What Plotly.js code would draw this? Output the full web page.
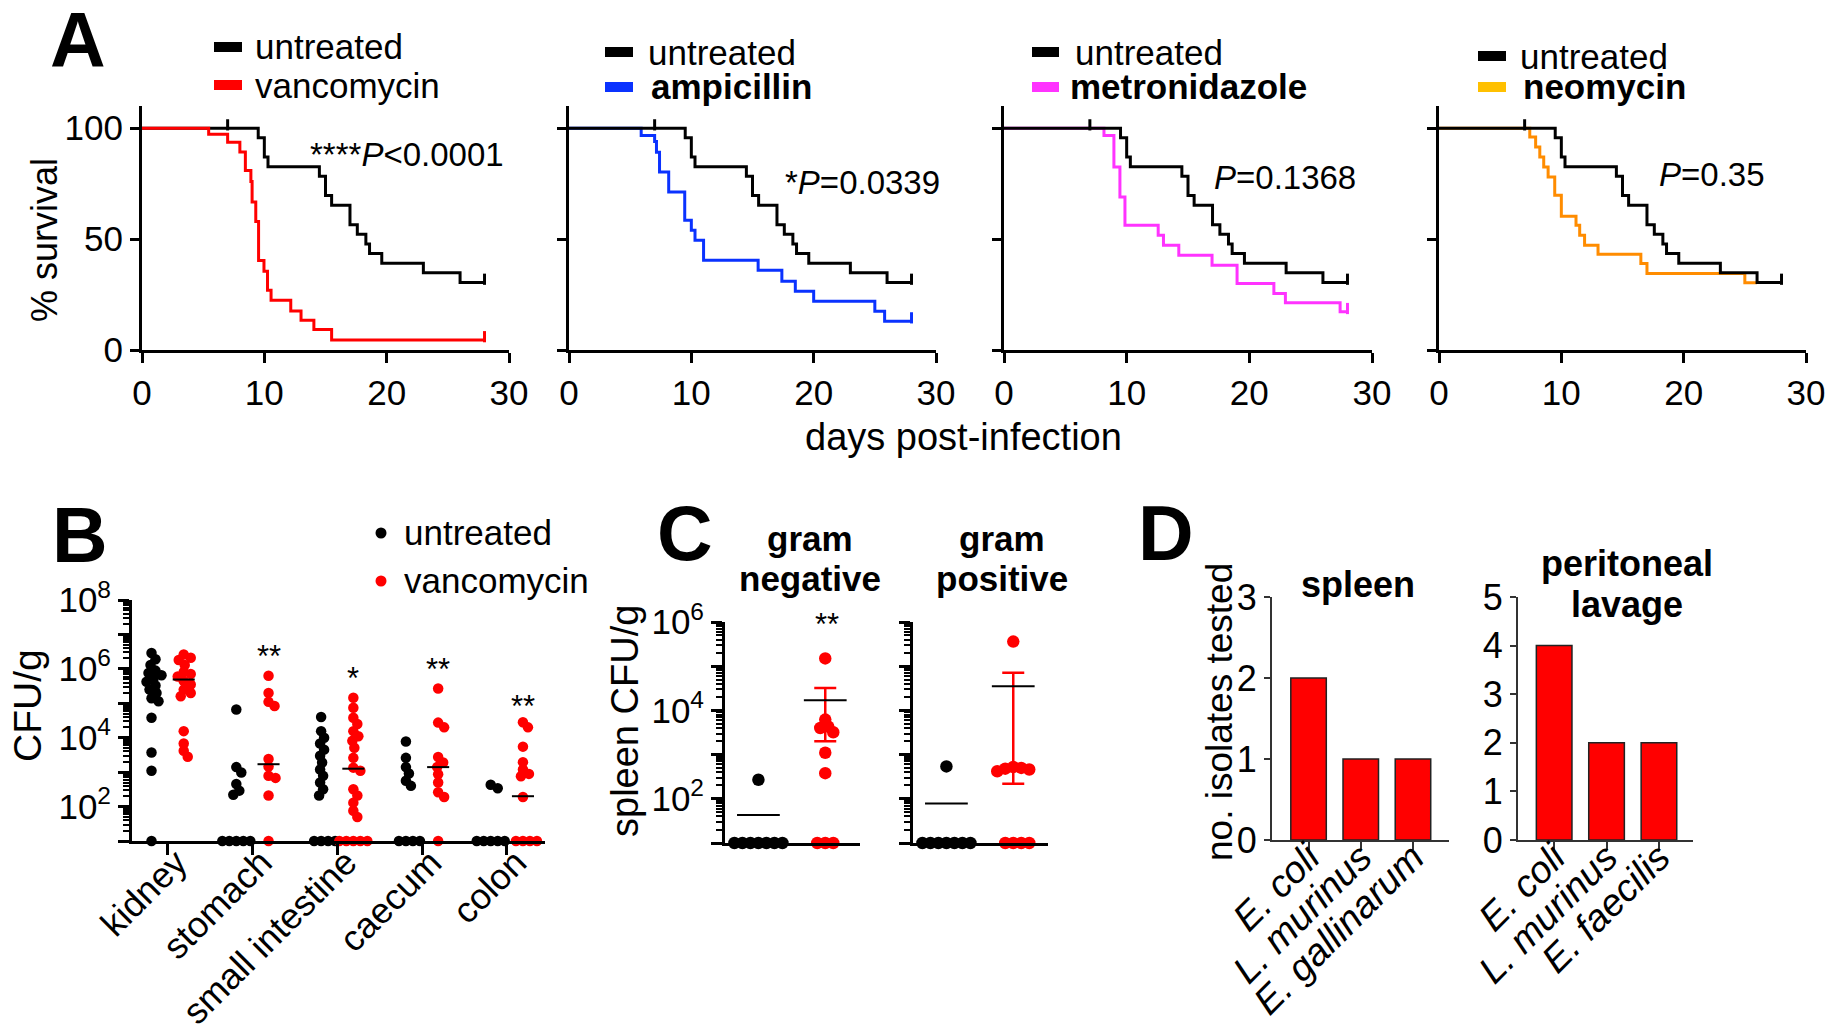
<!DOCTYPE html>
<html>
<head>
<meta charset="utf-8">
<script src="https://cdn.plot.ly/plotly-3.0.1.min.js"></script>
<style>
  html, body { margin: 0; padding: 0; background: #ffffff; }
  #chart { width: 1831px; height: 1026px; }
</style>
</head>
<body>
<div id="chart"></div>
<script>
// ================= DATA =================
// Panel A: Kaplan-Meier survival (day, % survival) step points
const daysTicks = [0, 10, 20, 30];
const survivalTicks = [0, 50, 100];

const untreatedT = [0, 9.5, 10.0, 10.3, 14.5, 15.0, 15.5, 17.0, 17.6, 18.3, 18.6, 19.6, 23.0, 26.0, 28];
const untreatedS = [100, 95.7, 87.0, 82.6, 78.3, 69.6, 65.2, 56.5, 52.2, 47.8, 43.5, 39.1, 34.8, 30.4, 30.4];
const untreatedCensorT = [7, 28];

const vancoT = [0, 5.45, 7.0, 8.0, 8.45, 8.9, 9.0, 9.3, 9.53, 9.97, 10.26, 10.55, 12.16, 13.0, 14.05, 15.5, 28];
const vancoS = [100, 97.3, 93.7, 89.3, 80.9, 76.0, 66.7, 57.9, 40.3, 35.5, 26.9, 22.4, 17.6, 13.4, 9.25, 4.5, 4.5];
const vancoCensorT = [28];

const ampT = [0, 5.9, 7.0, 7.15, 7.4, 8.15, 9.46, 10.0, 10.3, 11.0, 15.46, 17.4, 18.5, 20.0, 25.0, 25.8, 28];
const ampS = [100, 96.7, 94.0, 89.2, 80.2, 71.2, 58.5, 54.0, 49.5, 40.5, 36.0, 31.0, 26.5, 22.0, 17.5, 13.0, 13.0];
const ampCensorT = [28];

const metroT = [0, 8.15, 8.96, 9.45, 9.86, 12.57, 13.0, 14.25, 16.96, 19.0, 22.0, 22.94, 27.4, 28];
const metroS = [100, 96.7, 82.5, 69.0, 56.2, 51.7, 47.2, 42.7, 38.2, 30.0, 25.5, 21.3, 17.2, 17.2];
const metroCensorT = [28];

const neoT = [0, 7.42, 7.9, 8.24, 8.56, 8.92, 9.46, 10.0, 11.2, 11.5, 11.9, 13.0, 16.5, 17.0, 25.0, 26.0];
const neoS = [100, 96.0, 91.5, 87.0, 82.5, 78.0, 69.8, 60.3, 56.2, 51.7, 47.2, 43.2, 39.0, 34.5, 30.3, 30.3];
const neoCensorT = [];

const treatmentNames = ['vancomycin', 'ampicillin', 'metronidazole', 'neomycin'];
const pValueTexts = ['****<i>P</i>&lt;0.0001', '*<i>P</i>=0.0339', '<i>P</i>=0.1368', '<i>P</i>=0.35'];

// Panel B: CFU/g per organ (0 = below detection, drawn on the axis)
const organs = ['kidney', 'stomach', 'small intestine', 'caecum', 'colon'];
const organStars = ['', '**', '*', '**', '**'];
const cfuUntreated = [
  [2.9e6, 1.9e6, 1.3e6, 8.9e5, 7.6e5, 6.5e5, 5.2e5, 4.2e5, 3.3e5, 2.5e5, 2.0e5, 1.4e5, 1.15e5, 3.8e4, 3.7e3, 1.1e3, 0],
  [6.6e4, 1.4e3, 9.8e2, 4.5e2, 2.9e2, 2.2e2, 0, 0, 0, 0, 0],
  [4.0e4, 1.55e4, 1.0e4, 6.8e3, 4.5e3, 3.0e3, 1.9e3, 1.2e3, 7.8e2, 5.0e2, 3.2e2, 2.1e2, 0, 0, 0, 0],
  [7.8e3, 2.6e3, 1.4e3, 9.1e2, 5.6e2, 4.0e2, 0, 0, 0, 0],
  [4.3e2, 3.4e2, 0, 0, 0, 0, 0]
];
const cfuVanco = [
  [2.6e6, 2.1e6, 1.8e6, 1.3e6, 8.1e5, 7.1e5, 6.0e5, 4.4e5, 3.5e5, 2.5e5, 2.0e5, 1.6e5, 1.55e4, 6.8e3, 4.2e3, 2.8e3],
  [6.3e5, 2.0e5, 1.1e5, 8.3e4, 2.4e3, 1.45e3, 7.9e2, 6.8e2, 2.1e2, 0],
  [1.45e5, 7.4e4, 3.8e4, 2.5e4, 1.55e4, 1.1e4, 8.1e3, 5.1e3, 2.6e3, 1.35e3, 1.1e3, 3.2e2, 2.1e2, 1.3e2, 76, 50, 0, 0, 0, 0, 0],
  [2.7e5, 2.75e4, 2.0e4, 2.75e3, 1.9e3, 1.4e3, 8.7e2, 5.0e2, 2.6e2, 1.9e2, 0],
  [2.8e4, 2.0e4, 5.5e3, 1.95e3, 1.2e3, 8.9e2, 7.6e2, 1.9e2, 0, 0, 0, 0]
];
const vancoMedian = [4.9e5, 1.7e3, 1.26e3, 1.4e3, 2.0e2];
const cfuTickVals = [1e1, 1e2, 1e3, 1e4, 1e5, 1e6, 1e7, 1e8];
const cfuTickText = [' ', '10<sup>2</sup>', ' ', '10<sup>4</sup>', ' ', '10<sup>6</sup>', ' ', '10<sup>8</sup>'];

// Panel C: spleen CFU/g
const gramGroups = [['gram', 'negative'], ['gram', 'positive']];
const gramStars = ['**', ''];
const spleenUntreated = [
  [270, 0, 0, 0, 0, 0, 0, 0],
  [540, 0, 0, 0, 0, 0, 0, 0]
];
const spleenVanco = [
  [1.5e5, 6.2e3, 4.0e3, 4.3e3, 3.2e3, 1.1e3, 380, 0, 0, 0],
  [3.6e5, 525, 480, 420, 460, 500, 0, 0, 0, 0]
];
const spleenMeanUntreated = [43, 78];
const spleenMeanVanco = [1.7e4, 3.5e4];
const spleenErrHiVanco = [3.2e4, 7.1e4];
const spleenErrLoVanco = [2.0e3, 2.2e2];
const spleenTickVals = [1e1, 1e2, 1e3, 1e4, 1e5, 1e6];
const spleenTickText = [' ', '10<sup>2</sup>', ' ', '10<sup>4</sup>', ' ', '10<sup>6</sup>'];

// Panel D: isolates tested
const isolatesSpleen = ['E. coli', 'L. murinus', 'E. gallinarum'];
const countsSpleen = [2, 1, 1];
const isolatesLavage = ['E. coli', 'L. murinus', 'E. faecilis'];
const countsLavage = [4, 2, 2];

// ================= LAYOUT HELPERS =================
const W = 1831, H = 1026;
const FONT = 'Liberation Sans, Arial, Helvetica, sans-serif';
const X = p => p / W;
const Y = p => 1 - p / H;
const xd = (a, b) => [X(a), X(b)];
const yd = (top, bottom) => [Y(bottom), Y(top)];

const RED = '#ff0000';
const colorsA = ['#ff0000', '#0a32ff', '#ff33ff', '#ff8c00'];
const swatchA = ['#ff0000', '#0a32ff', '#ff33ff', '#ffc000'];

const axBase = {
  showline: true, linecolor: 'black', linewidth: 3, mirror: false,
  ticks: 'outside', tickcolor: 'black', tickwidth: 3, ticklen: 10,
  showgrid: false, zeroline: false, fixedrange: true,
  tickfont: { family: FONT, size: 35, color: 'black' }
};

function stepValue(t, s, at) {
  let v = s[0];
  for (let i = 0; i < t.length; i++) { if (t[i] <= at) v = s[i]; }
  return v;
}

// beeswarm offsets (in axis units) so dots do not pile exactly on top of each other
function swarm(vals, floor, pxPerX, pxPerDecade, minDist) {
  const pts = vals.map((v, i) => ({ i, y: Math.log10(Math.max(v, floor)) * pxPerDecade }));
  const order = pts.slice().sort((a, b) => b.y - a.y);
  const placed = [];
  const off = new Array(vals.length).fill(0);
  for (const p of order) {
    let k = 0, dx = 0;
    while (k < 400) {
      const c = k === 0 ? 0 : (k % 2 === 1 ? Math.ceil(k / 2) : -Math.ceil(k / 2));
      if (placed.every(q => Math.hypot(q.x - c, q.y - p.y) >= minDist)) { dx = c; break; }
      k++;
    }
    placed.push({ x: dx, y: p.y });
    off[p.i] = dx / pxPerX;
  }
  return off;
}

const layout = {
  width: W, height: H,
  margin: { l: 0, r: 0, t: 0, b: 0, pad: 0 },
  paper_bgcolor: 'white', plot_bgcolor: 'rgba(0,0,0,0)',
  showlegend: false,
  font: { family: FONT, size: 33, color: 'black' },
  annotations: [], shapes: []
};
const traces = [];

function ann(text, x, y, o) {
  o = o || {};
  layout.annotations.push(Object.assign({
    text: text, x: X(x), y: Y(y), xref: 'paper', yref: 'paper',
    showarrow: false, xanchor: 'left', yanchor: 'middle',
    font: { family: FONT, size: o.size || 33, color: 'black' }
  }, o.extra || {}));
}

// ================= PANEL A =================
const A_x0 = [142, 569, 1004, 1439];
const A_x1 = [509, 936, 1372, 1806];
const A_series = [[vancoT, vancoS, vancoCensorT], [ampT, ampS, ampCensorT], [metroT, metroS, metroCensorT], [neoT, neoS, neoCensorT]];
const A_legendSwatch = [[214, 242], [605, 633], [1032, 1059], [1478, 1506]];
const A_legendText = [[253, 253], [646, 649], [1073, 1068], [1518, 1521]];
const A_legendY = [[47, 85], [52, 87], [52, 87], [56, 87]];
const A_pPos = [[308, 155], [783, 183], [1212, 177], [1657, 175]];

for (let k = 0; k < 4; k++) {
  const n = k + 1;
  const xa = 'x' + (n === 1 ? '' : n), ya = 'y' + (n === 1 ? '' : n);
  layout['xaxis' + (n === 1 ? '' : n)] = Object.assign({}, axBase, {
    domain: xd(A_x0[k], A_x1[k]), range: [0, 30], tickmode: 'array', tickvals: daysTicks,
    anchor: ya
  });
  layout['yaxis' + (n === 1 ? '' : n)] = Object.assign({}, axBase, {
    domain: yd(106, 350), range: [0, 110], tickmode: 'array', tickvals: survivalTicks,
    showticklabels: k === 0, ticklen: 9, anchor: xa
  });
  const [tt, ss, cc] = A_series[k];
  const treated = { x: tt, y: ss, type: 'scatter', mode: 'lines', line: { shape: 'hv', color: colorsA[k], width: 3 }, xaxis: xa, yaxis: ya, cliponaxis: false, hoverinfo: 'skip' };
  const untreated = { x: untreatedT, y: untreatedS, type: 'scatter', mode: 'lines', line: { shape: 'hv', color: 'black', width: 3 }, xaxis: xa, yaxis: ya, cliponaxis: false, hoverinfo: 'skip' };
  const cens = { x: cc, y: cc.map(c => stepValue(tt, ss, c) + 1.5), type: 'scatter', mode: 'markers', marker: { symbol: 'line-ns-open', size: 8, color: colorsA[k], line: { color: colorsA[k], width: 3 } }, xaxis: xa, yaxis: ya, cliponaxis: false, hoverinfo: 'skip' };
  const censU = { x: untreatedCensorT, y: untreatedCensorT.map(c => stepValue(untreatedT, untreatedS, c) + 1.5), type: 'scatter', mode: 'markers', marker: { symbol: 'line-ns-open', size: 8, color: 'black', line: { color: 'black', width: 3 } }, xaxis: xa, yaxis: ya, cliponaxis: false, hoverinfo: 'skip' };
  if (k === 0) { traces.push(untreated, censU, treated, cens); }
  else { traces.push(treated, cens, untreated, censU); }

  // legend
  const [s0, s1] = A_legendSwatch[k];
  const [ly0, ly1] = A_legendY[k];
  layout.shapes.push({ type: 'rect', xref: 'paper', yref: 'paper', x0: X(s0), x1: X(s1), y0: Y(ly0 + 5), y1: Y(ly0 - 5), fillcolor: 'black', line: { width: 0 } });
  layout.shapes.push({ type: 'rect', xref: 'paper', yref: 'paper', x0: X(s0), x1: X(s1), y0: Y(ly1 + 5), y1: Y(ly1 - 5), fillcolor: swatchA[k], line: { width: 0 } });
  ann('untreated', A_legendText[k][0], ly0, { size: 35 });
  ann(k === 0 ? treatmentNames[k] : '<b>' + treatmentNames[k] + '</b>', A_legendText[k][1], ly1, { size: 35 });
  ann(pValueTexts[k], A_pPos[k][0], A_pPos[k][1], { size: 33 });
}
ann('<b>A</b>', 48, 40, { size: 77 });
ann('% survival', 44, 240, { size: 36, extra: { textangle: -90, xanchor: 'center' } });
ann('days post-infection', 963, 437, { size: 38, extra: { xanchor: 'center' } });

// ================= PANEL B =================
const B_pxPerX = (545 - 132) / (4.45 + 0.42);
const B_pxPerDec = (841 - 600) / 7;
const B_off = 0.19;
function cfuMinor(maxExp) {
  const v = [];
  for (let e = 1; e < maxExp; e++) for (let m = 2; m <= 9; m++) v.push(m * Math.pow(10, e));
  return v;
}
layout.xaxis5 = Object.assign({}, axBase, {
  domain: xd(132, 545), range: [-0.42, 4.45], tickmode: 'array', tickvals: organs.map((_, i) => i), ticktext: organs,
  tickangle: -45, ticklen: 11, anchor: 'y5', ticklabelstandoff: -28, ticklabelshift: 9,
  tickfont: { family: FONT, size: 36, color: 'black' }
});
layout.yaxis5 = Object.assign({}, axBase, {
  type: 'log', domain: yd(600, 841), range: [1, 8], tickmode: 'array', tickvals: cfuTickVals, ticktext: cfuTickText,
  ticklen: 11, anchor: 'x5', tickfont: { family: FONT, size: 35, color: 'black' },
  minor: { tickmode: 'array', tickvals: cfuMinor(8), ticks: 'outside', ticklen: 6, tickwidth: 2, tickcolor: 'black' }
});
function groupTrace(groups, sign, color, xa, ya, pxPerX, pxPerDec, base, size, minDist) {
  const xs = [], ys = [];
  groups.forEach((vals, i) => {
    const off = swarm(vals, 10, pxPerX, pxPerDec, minDist);
    vals.forEach((v, j) => { xs.push(base(i) + sign + off[j]); ys.push(Math.max(v, 10)); });
  });
  return { x: xs, y: ys, type: 'scatter', mode: 'markers', marker: { color: color, size: size, line: { width: 0 } }, xaxis: xa, yaxis: ya, cliponaxis: false, hoverinfo: 'skip' };
}
traces.push(groupTrace(cfuUntreated, -B_off, 'black', 'x5', 'y5', B_pxPerX, B_pxPerDec, i => i, 10.5, 7));
traces.push(groupTrace(cfuVanco, B_off, RED, 'x5', 'y5', B_pxPerX, B_pxPerDec, i => i, 10.5, 7));
{
  const mx = [], my = [];
  vancoMedian.forEach((m, i) => { mx.push(i + B_off - 0.13, i + B_off + 0.13, null); my.push(m, m, null); });
  traces.push({ x: mx, y: my, type: 'scatter', mode: 'lines', line: { color: 'black', width: 2 }, xaxis: 'x5', yaxis: 'y5', cliponaxis: false, hoverinfo: 'skip' });
}
organStars.forEach((s, i) => {
  if (!s) return;
  const maxV = Math.max(...cfuVanco[i]);
  layout.annotations.push({ text: s, x: i + B_off, y: Math.log10(maxV) + (i === 4 ? 0.45 : 0.55), xref: 'x5', yref: 'y5', showarrow: false, xanchor: 'center', yanchor: 'middle', font: { family: FONT, size: 31, color: 'black' } });
});
ann('<b>B</b>', 50, 535, { size: 77 });
ann('CFU/g', 27, 706, { size: 39, extra: { textangle: -90, xanchor: 'center' } });
layout.shapes.push({ type: 'circle', xref: 'paper', yref: 'paper', x0: X(381 - 5.5), x1: X(381 + 5.5), y0: Y(533 + 5.5), y1: Y(533 - 5.5), fillcolor: 'black', line: { width: 0 } });
layout.shapes.push({ type: 'circle', xref: 'paper', yref: 'paper', x0: X(381 - 5.5), x1: X(381 + 5.5), y0: Y(581 + 5.5), y1: Y(581 - 5.5), fillcolor: RED, line: { width: 0 } });
ann('untreated', 402, 532, { size: 35 });
ann('vancomycin', 402, 580, { size: 35 });

// ================= PANEL C =================
const C_x0 = [725, 913], C_x1 = [860, 1048];
const C_titleX = [810, 1002];
const C_pxPerX = 135 / 2.02;
const C_pxPerDec = (843 - 622) / 5;
for (let g = 0; g < 2; g++) {
  const n = 6 + g, xa = 'x' + n, ya = 'y' + n;
  layout['xaxis' + n] = Object.assign({}, axBase, {
    domain: xd(C_x0[g], C_x1[g]), range: [-0.5, 1.52], ticks: '', showticklabels: false, anchor: ya
  });
  layout['yaxis' + n] = Object.assign({}, axBase, {
    type: 'log', domain: yd(622, 843), range: [1, 6], tickmode: 'array', tickvals: spleenTickVals, ticktext: spleenTickText,
    showticklabels: g === 0, ticklen: 11, anchor: xa, tickfont: { family: FONT, size: 35, color: 'black' },
    minor: { tickmode: 'array', tickvals: cfuMinor(6), ticks: 'outside', ticklen: 6, tickwidth: 2, tickcolor: 'black' }
  });
  // dots
  traces.push(groupTrace([spleenUntreated[g]], 0, 'black', xa, ya, C_pxPerX, C_pxPerDec, i => 0, 12.5, 7.5));
  traces.push(groupTrace([spleenVanco[g]], 0, RED, xa, ya, C_pxPerX, C_pxPerDec, i => 1, 12.5, 7.5));
  // error bar (vancomycin)
  traces.push({
    x: [1], y: [spleenMeanVanco[g]], type: 'scatter', mode: 'markers', marker: { size: 1, color: 'rgba(0,0,0,0)' },
    error_y: { type: 'data', symmetric: false, array: [spleenErrHiVanco[g] - spleenMeanVanco[g]], arrayminus: [spleenMeanVanco[g] - spleenErrLoVanco[g]], color: RED, thickness: 2.5, width: 11 },
    xaxis: xa, yaxis: ya, cliponaxis: false, hoverinfo: 'skip'
  });
  // mean lines
  traces.push({
    x: [-0.32, 0.32, null, 0.68, 1.32], y: [spleenMeanUntreated[g], spleenMeanUntreated[g], null, spleenMeanVanco[g], spleenMeanVanco[g]],
    type: 'scatter', mode: 'lines', line: { color: 'black', width: 2 }, xaxis: xa, yaxis: ya, cliponaxis: false, hoverinfo: 'skip'
  });
  ann('<b>' + gramGroups[g][0] + '</b>', C_titleX[g], 538, { size: 35, extra: { xanchor: 'center' } });
  ann('<b>' + gramGroups[g][1] + '</b>', C_titleX[g], 578, { size: 35, extra: { xanchor: 'center' } });
}
ann(gramStars[0], 827, 624, { size: 31, extra: { xanchor: 'center' } });
ann('<b>C</b>', 655, 533, { size: 77 });
ann('spleen CFU/g', 625, 721, { size: 38, extra: { textangle: -90, xanchor: 'center' } });

// ================= PANEL D =================
const D_specs = [
  { n: 8, x0: 1272, x1: 1449, range: [-0.7, 2.69], names: isolatesSpleen, counts: countsSpleen, ymax: 3 },
  { n: 9, x0: 1518, x1: 1693, range: [-0.69, 2.65], names: isolatesLavage, counts: countsLavage, ymax: 5 }
];
D_specs.forEach(d => {
  const xa = 'x' + d.n, ya = 'y' + d.n;
  layout['xaxis' + d.n] = Object.assign({}, axBase, {
    domain: xd(d.x0, d.x1), range: d.range, tickmode: 'array', tickvals: d.names.map((_, i) => i),
    ticktext: d.names.map(s => '<i>' + s + '</i>'), tickangle: -45, linewidth: 2, linecolor: '#333', tickwidth: 2, tickcolor: '#333', ticklen: 8,
    anchor: ya, ticklabelstandoff: -30, tickfont: { family: FONT, size: 38, color: 'black' }
  });
  layout['yaxis' + d.n] = Object.assign({}, axBase, {
    domain: yd(597, 840), range: [0, d.ymax], dtick: 1, tick0: 0, linewidth: 2, linecolor: '#333', tickwidth: 2, tickcolor: '#333', ticklen: 6,
    anchor: xa, tickfont: { family: FONT, size: 36, color: 'black' }
  });
  traces.push({
    x: d.names.map((_, i) => i), y: d.counts, type: 'bar', width: 0.68,
    marker: { color: RED, line: { color: '#222', width: 1.5 } }, xaxis: xa, yaxis: ya, hoverinfo: 'skip'
  });
});
ann('<b>D</b>', 1136, 533, { size: 77 });
ann('no. isolates tested', 1219, 712, { size: 37, extra: { textangle: -90, xanchor: 'center' } });
ann('<b>spleen</b>', 1358, 584, { size: 36, extra: { xanchor: 'center' } });
ann('<b>peritoneal</b>', 1627, 563, { size: 36, extra: { xanchor: 'center' } });
ann('<b>lavage</b>', 1627, 604, { size: 36, extra: { xanchor: 'center' } });

Plotly.newPlot('chart', traces, layout, { staticPlot: true, displayModeBar: false });
</script>
</body>
</html>
